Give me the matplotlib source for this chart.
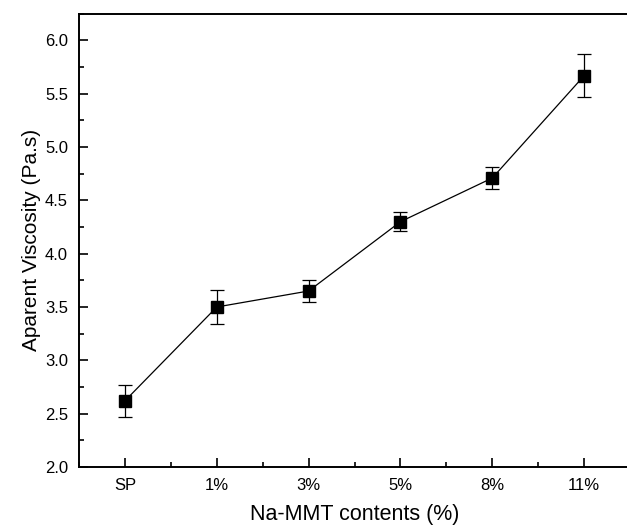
import matplotlib
matplotlib.use("Agg")
import matplotlib.pyplot as plt
from matplotlib.ticker import MultipleLocator, FormatStrFormatter

plt.rcParams['font.family'] = ['Liberation Sans', 'DejaVu Sans']

categories = ["SP", "1%", "3%", "5%", "8%", "11%"]
viscosity = [2.62, 3.50, 3.65, 4.30, 4.71, 5.67]
errors = [0.15, 0.16, 0.10, 0.09, 0.105, 0.20]

fig = plt.figure(figsize=(6.27, 5.30), dpi=100)
ax = fig.add_axes([0.126, 0.119, 0.879, 0.855])

x = list(range(len(categories)))
ax.errorbar(x, viscosity, yerr=errors, fmt='-s', color='black', lw=0.9,
            markersize=8, elinewidth=0.9, capsize=5, capthick=0.9)

ax.set_xlim(-0.5, 5.5)
ax.set_ylim(2.0, 6.25)
ax.set_xticks(x)
ax.set_xticklabels(categories)
ax.xaxis.set_minor_locator(MultipleLocator(0.5))
ax.yaxis.set_major_locator(MultipleLocator(0.5))
ax.yaxis.set_minor_locator(MultipleLocator(0.25))
ax.yaxis.set_major_formatter(FormatStrFormatter('%.1f'))

ax.tick_params(which='major', direction='in', length=6.5, width=1.2, labelsize=12, pad=8)
ax.tick_params(which='minor', direction='in', length=3.5, width=1.2)
ax.tick_params(top=False, right=False, which='both')
for s in ax.spines.values():
    s.set_linewidth(1.4)
ax.spines['right'].set_visible(False)

ax.set_xlabel("Na-MMT contents (%)", fontsize=15.5, labelpad=8)
ax.set_ylabel("Aparent Viscosity (Pa.s)", fontsize=15, labelpad=3)

fig.savefig("out.png", dpi=100)
